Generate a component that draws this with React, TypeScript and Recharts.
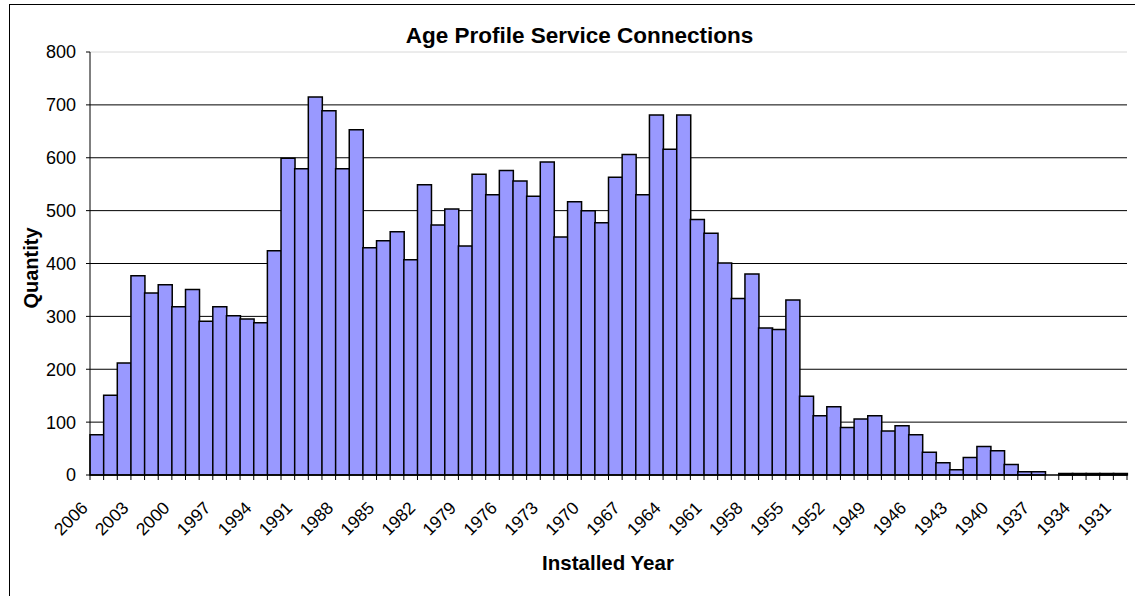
import React from "react";
import { BarChart, Bar, XAxis, YAxis, CartesianGrid, ReferenceLine } from "recharts";

const years: string[] = [
  "2006","2005","2004","2003","2002","2001","2000","1999","1998","1997",
  "1996","1995","1994","1993","1992","1991","1990","1989","1988","1987",
  "1986","1985","1984","1983","1982","1981","1980","1979","1978","1977",
  "1976","1975","1974","1973","1972","1971","1970","1969","1968","1967",
  "1966","1965","1964","1963","1962","1961","1960","1959","1958","1957",
  "1956","1955","1954","1953","1952","1951","1950","1949","1948","1947",
  "1946","1945","1944","1943","1942","1941","1940","1939","1938","1937",
  "1936","1935","1934","1933","1932","1931",
];

const quantities: number[] = [
  76, 151, 212, 377, 344, 360, 318, 351, 291, 318,
  301, 295, 288, 424, 599, 579, 715, 689, 579, 653,
  430, 443, 460, 407, 549, 473, 503, 433, 569, 530,
  576, 556, 527, 592, 450, 517, 500, 477, 563, 606,
  530, 681, 616, 681, 483, 457, 401, 334, 380, 278,
  275, 331, 149, 112, 129, 90, 106, 112, 83, 93,
  76, 43, 23, 10, 33, 54, 46, 20, 6, 6,
  0, 3, 3, 3, 3, 3,
];

const yTicks: number[] = [0, 100, 200, 300, 400, 500, 600, 700, 800];
const gridValues: number[] = [100, 200, 300, 400, 500, 600, 700];

const data = years.map((y, i) => ({ year: y, qty: quantities[i] }));

const W = 1135;
const H = 596;
const M_TOP = 52;
const M_RIGHT = 8;
const Y_W = 90;
const X_H = 121;
const PLOT_W = W - M_RIGHT - Y_W;
const PLOT_BOTTOM = H - X_H;
const N = years.length;
const FONT = "'Liberation Sans', Arial, sans-serif";

const XTick = (props: any) => {
  const { x, payload, index } = props;
  const bw = PLOT_W / N;
  const i = payload && typeof payload.index === "number" ? payload.index : index;
  const left = x - bw / 2;
  const tx = x - 8;
  const ty = PLOT_BOTTOM + 34;
  return (
    <g>
      <line x1={left} y1={PLOT_BOTTOM} x2={left} y2={PLOT_BOTTOM + 5} stroke="#000" strokeWidth={1} />
      {i === N - 1 && (
        <line x1={x + bw / 2} y1={PLOT_BOTTOM} x2={x + bw / 2} y2={PLOT_BOTTOM + 5} stroke="#000" strokeWidth={1} />
      )}
      {i % 3 === 0 && (
        <text
          x={tx}
          y={ty}
          textAnchor="end"
          transform={`rotate(-45 ${tx} ${ty})`}
          fontSize={17.5}
          fontFamily={FONT}
          fill="#000"
        >
          {payload.value}
        </text>
      )}
    </g>
  );
};

export default function App() {
  return (
    <div style={{ position: "absolute", left: 0, top: 0, width: W, height: H, background: "#fff" }}>
      <div
        style={{
          position: "absolute",
          left: 9,
          top: 4,
          width: W - 9,
          height: H - 4,
          borderLeft: "1px solid #000",
          borderTop: "1px solid #000",
          boxSizing: "border-box",
        }}
      />
      <BarChart
        width={W}
        height={H}
        data={data}
        margin={{ top: M_TOP, right: M_RIGHT, bottom: 0, left: 0 }}
        barCategoryGap={0}
        barGap={0}
        style={{ position: "absolute", left: 0, top: 0 }}
      >
        <CartesianGrid vertical={false} horizontalValues={gridValues} stroke="#000" strokeWidth={1} />
        <ReferenceLine y={800} stroke="#d8d8d8" strokeWidth={1} ifOverflow="extendDomain" />
        <XAxis
          dataKey="year"
          interval={0}
          height={X_H}
          tickLine={false}
          axisLine={{ stroke: "#000", strokeWidth: 1.5 }}
          tick={<XTick />}
        />
        <YAxis
          width={Y_W}
          domain={[0, 800]}
          ticks={yTicks}
          interval={0}
          tickSize={4}
          tickMargin={10}
          tickLine={{ stroke: "#000" }}
          axisLine={{ stroke: "#000" }}
          tick={{ fontSize: 18, fontFamily: FONT, fill: "#000" }}
        />
        <Bar dataKey="qty" fill="#9999FF" stroke="#000" strokeWidth={1.5} isAnimationActive={false} />
      </BarChart>
      <svg width={W} height={H} style={{ position: "absolute", left: 0, top: 0, pointerEvents: "none" }}>
        <text x={579.5} y={42.7} textAnchor="middle" fontSize={22.5} fontWeight="bold" fontFamily={FONT} fill="#000">
          Age Profile Service Connections
        </text>
        <text
          x={38}
          y={268}
          textAnchor="middle"
          transform="rotate(-90 38 268)"
          fontSize={20}
          fontWeight="bold"
          fontFamily={FONT}
          fill="#000"
        >
          Quantity
        </text>
        <text x={608} y={570} textAnchor="middle" fontSize={20.5} fontWeight="bold" fontFamily={FONT} fill="#000">
          Installed Year
        </text>
      </svg>
    </div>
  );
}
